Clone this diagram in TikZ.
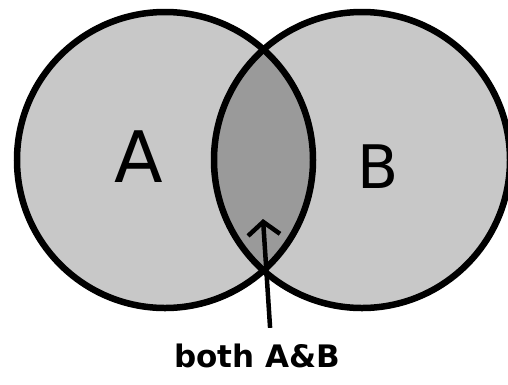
\documentclass[tikz,border=0pt]{standalone}
\usepackage{fontspec}
\setmainfont{DejaVu Sans}
\usepackage{tikz}
\usetikzlibrary{arrows.meta,positioning}
\definecolor{setgray}{HTML}{C8C8C8}
\definecolor{lensgray}{HTML}{9A9A9A}

\begin{document}
\begin{tikzpicture}[x=1pt,y=-1pt,
    set/.style={circle, minimum size=296pt, inner sep=0pt, fill=setgray},
    rim/.style={line width=6.5pt, draw=black},
    letter/.style={font=\fontsize{#1}{#1}\selectfont},
    note/.style={font=\fontsize{31}{31}\selectfont\bfseries, inner sep=2pt},
    pointer/.style={-{Straight Barb[length=13pt,width=32pt,line width=4.5pt]},
                    line width=4.5pt, shorten <=14pt},
]
\useasboundingbox (0,0) rectangle (508,384);

% the two sets
\node[set] (setA) at (165,160) {};
\node[set] (setB) at (362,160) {};

% overlap
\begin{scope}
  \clip (setA.center) circle (148);
  \fill[lensgray] (setB.center) circle (148);
\end{scope}

\draw[rim] (setA.center) circle (148);
\draw[rim] (setB.center) circle (148);

\node[letter=71] (nameA) at (139,157) {A};
\node[letter=60] (nameB) at (378,167) {B};

% label for the overlap
\node[note] (both) at (257,356) {both A\&B};
\coordinate (tip) at (263,219);
\draw[pointer] ([xshift=14pt]both.north) -- (tip);

\end{tikzpicture}
\end{document}
